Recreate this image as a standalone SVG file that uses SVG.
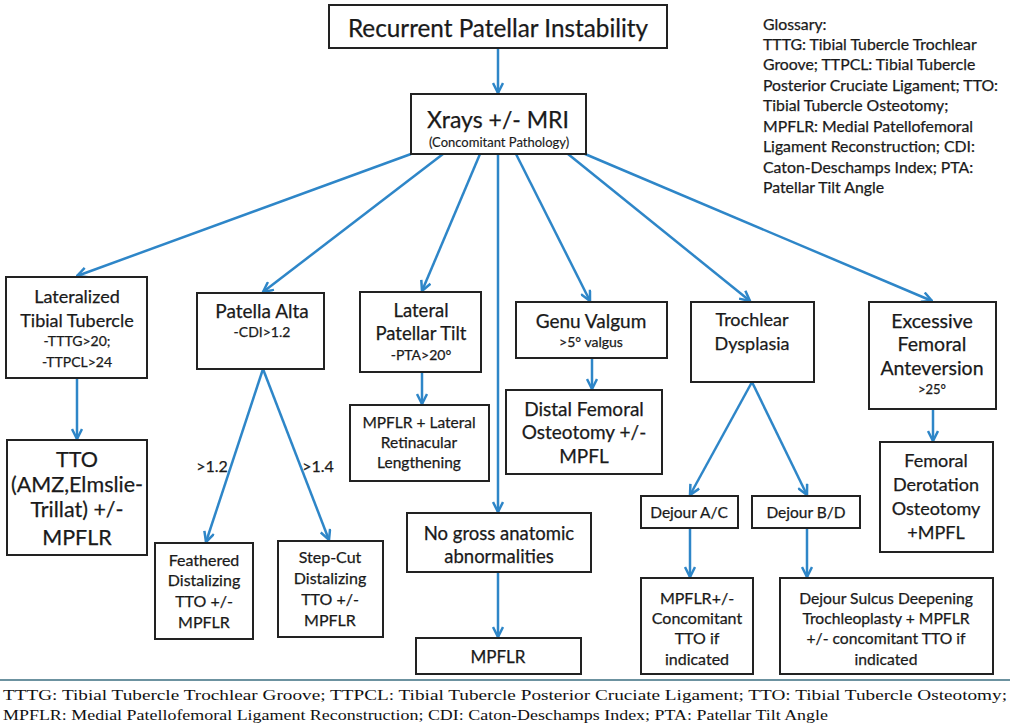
<svg xmlns="http://www.w3.org/2000/svg" width="1010" height="725" viewBox="0 0 1010 725">
<style>
.box{fill:#fff;stroke:#222;stroke-width:2}
.t{font-family:Lato,"Open Sans","Liberation Sans",sans-serif;fill:#1a1a1a;text-anchor:middle;stroke:#1a1a1a;stroke-width:0.25}
.g{font-family:Lato,"Open Sans","Liberation Sans",sans-serif;fill:#1a1a1a;font-size:15.8px;stroke:#1a1a1a;stroke-width:0.25}
.c{fill:none;stroke:#2e86c8;stroke-width:2.5;marker-end:url(#ah)}
.f{font-family:"Liberation Serif","Times New Roman",serif;fill:#111;font-size:15px}
</style>
<defs>
<marker id="ah" viewBox="0 0 12 12" refX="11" refY="6" markerWidth="12" markerHeight="12" markerUnits="userSpaceOnUse" orient="auto">
<path d="M1,1 L11,6 L1,11" fill="none" stroke="#2e86c8" stroke-width="2.5"/>
</marker>
</defs>
<rect width="1010" height="725" fill="#fff"/>

<g id="connectors">
<line class="c" x1="498" y1="48" x2="498" y2="93"/>
<line class="c" x1="411" y1="154" x2="77" y2="276"/>
<line class="c" x1="443" y1="154" x2="263" y2="292"/>
<line class="c" x1="480" y1="154" x2="422" y2="291"/>
<line class="c" x1="498" y1="154" x2="498" y2="512"/>
<line class="c" x1="516" y1="154" x2="590" y2="301"/>
<line class="c" x1="568" y1="154" x2="750" y2="301"/>
<line class="c" x1="585" y1="154" x2="932" y2="301"/>
<line class="c" x1="77" y1="378" x2="77" y2="439"/>
<line class="c" x1="263" y1="369" x2="206" y2="542"/>
<line class="c" x1="263" y1="369" x2="329" y2="540"/>
<line class="c" x1="422" y1="372" x2="422" y2="404"/>
<line class="c" x1="592" y1="358" x2="592" y2="389"/>
<line class="c" x1="752" y1="382" x2="690" y2="495"/>
<line class="c" x1="752" y1="382" x2="807" y2="495"/>
<line class="c" x1="933" y1="409" x2="933" y2="441"/>
<line class="c" x1="498" y1="572" x2="498" y2="637"/>
<line class="c" x1="690" y1="528" x2="690" y2="577"/>
<line class="c" x1="807" y1="528" x2="807" y2="577"/>
</g>

<g id="n-root"><rect class="box" x="329" y="5" width="338" height="43"/>
<text class="t" x="498" y="37" font-size="24.3">Recurrent Patellar Instability</text></g>

<g id="n-xrays"><rect class="box" x="411" y="94" width="175" height="60"/>
<text class="t" x="498" y="128" font-size="23">Xrays +/- MRI</text>
<text class="t" x="499" y="147" font-size="13" style="stroke-width:0.15">(Concomitant Pathology)</text></g>

<g id="n-lat-tib"><rect class="box" x="6" y="277" width="141" height="101"/>
<text class="t" x="77" y="303" font-size="18">Lateralized</text>
<text class="t" x="77" y="327" font-size="18">Tibial Tubercle</text>
<text class="t" x="77" y="346" font-size="14">-TTTG&gt;20;</text>
<text class="t" x="77" y="367" font-size="14">-TTPCL&gt;24</text></g>

<g id="n-tto"><rect class="box" x="7" y="440" width="140" height="115"/>
<text class="t" x="77" y="467" font-size="21.5">TTO</text>
<text class="t" x="77" y="492" font-size="21.5">(AMZ,Elmslie-</text>
<text class="t" x="77" y="517" font-size="21.5">Trillat) +/-</text>
<text class="t" x="77" y="545" font-size="21.5">MPFLR</text></g>

<g id="n-alta"><rect class="box" x="197" y="293" width="127" height="76"/>
<text class="t" x="262" y="318" font-size="19">Patella Alta</text>
<text class="t" x="262" y="337" font-size="14">-CDI&gt;1.2</text></g>

<text class="t" x="212" y="472" font-size="16">&gt;1.2</text>
<text class="t" x="318" y="472" font-size="16">&gt;1.4</text>

<g id="n-feathered"><rect class="box" x="155" y="543" width="98" height="96"/>
<text class="t" x="204" y="566" font-size="16">Feathered</text>
<text class="t" x="204" y="586" font-size="16">Distalizing</text>
<text class="t" x="204" y="607" font-size="16">TTO +/-</text>
<text class="t" x="204" y="628" font-size="16">MPFLR</text></g>

<g id="n-stepcut"><rect class="box" x="278" y="541" width="105" height="96"/>
<text class="t" x="330" y="563" font-size="16">Step-Cut</text>
<text class="t" x="330" y="584" font-size="16">Distalizing</text>
<text class="t" x="330" y="605" font-size="16">TTO +/-</text>
<text class="t" x="330" y="626" font-size="16">MPFLR</text></g>

<g id="n-tilt"><rect class="box" x="360" y="292" width="121" height="80"/>
<text class="t" x="421" y="317" font-size="18.5">Lateral</text>
<text class="t" x="421" y="340" font-size="18.5">Patellar Tilt</text>
<text class="t" x="421" y="360" font-size="14">-PTA&gt;20°</text></g>

<g id="n-mpflr-lat"><rect class="box" x="350" y="405" width="139" height="76"/>
<text class="t" x="419" y="428" font-size="15.5">MPFLR + Lateral</text>
<text class="t" x="419" y="448" font-size="15.5">Retinacular</text>
<text class="t" x="419" y="468" font-size="15.5">Lengthening</text></g>

<g id="n-nogross"><rect class="box" x="407" y="513" width="184" height="59"/>
<text class="t" x="499" y="540" font-size="18.5">No gross anatomic</text>
<text class="t" x="499" y="563" font-size="18.5">abnormalities</text></g>

<g id="n-mpflr"><rect class="box" x="416" y="638" width="165" height="36"/>
<text class="t" x="498" y="663" font-size="17">MPFLR</text></g>

<g id="n-genu"><rect class="box" x="516" y="302" width="151" height="56"/>
<text class="t" x="591" y="328" font-size="19">Genu Valgum</text>
<text class="t" x="591" y="347" font-size="14">&gt;5° valgus</text></g>

<g id="n-distal"><rect class="box" x="506" y="390" width="156" height="84"/>
<text class="t" x="584" y="416" font-size="19">Distal Femoral</text>
<text class="t" x="584" y="439" font-size="19">Osteotomy +/-</text>
<text class="t" x="584" y="463" font-size="19">MPFL</text></g>

<g id="n-trochlear"><rect class="box" x="691" y="302" width="123" height="80"/>
<text class="t" x="752" y="326" font-size="18">Trochlear</text>
<text class="t" x="752" y="350" font-size="18">Dysplasia</text></g>

<g id="n-dejour-ac"><rect class="box" x="641" y="496" width="97" height="32"/>
<text class="t" x="689" y="518" font-size="15.5">Dejour A/C</text></g>

<g id="n-dejour-bd"><rect class="box" x="752" y="496" width="108" height="32"/>
<text class="t" x="806" y="518" font-size="15.5">Dejour B/D</text></g>

<g id="n-mpflr-conc"><rect class="box" x="641" y="578" width="112" height="96"/>
<text class="t" x="697" y="604" font-size="16">MPFLR+/-</text>
<text class="t" x="697" y="624" font-size="16">Concomitant</text>
<text class="t" x="697" y="644" font-size="16">TTO if</text>
<text class="t" x="697" y="665" font-size="16">indicated</text></g>

<g id="n-sulcus"><rect class="box" x="780" y="578" width="213" height="96"/>
<text class="t" x="886" y="604" font-size="15.7">Dejour Sulcus Deepening</text>
<text class="t" x="886" y="624" font-size="15.7">Trochleoplasty + MPFLR</text>
<text class="t" x="886" y="644" font-size="15.7">+/- concomitant TTO if</text>
<text class="t" x="886" y="665" font-size="15.7">indicated</text></g>

<g id="n-anteversion"><rect class="box" x="869" y="302" width="127" height="107"/>
<text class="t" x="932" y="328" font-size="19.5">Excessive</text>
<text class="t" x="932" y="351" font-size="19.5">Femoral</text>
<text class="t" x="932" y="375" font-size="19.5">Anteversion</text>
<text class="t" x="932" y="394" font-size="13">&gt;25°</text></g>

<g id="n-derotation"><rect class="box" x="880" y="442" width="113" height="110"/>
<text class="t" x="936" y="467" font-size="18">Femoral</text>
<text class="t" x="936" y="491" font-size="18">Derotation</text>
<text class="t" x="936" y="515" font-size="18">Osteotomy</text>
<text class="t" x="936" y="539" font-size="18">+MPFL</text></g>

<g id="glossary">
<text class="g" x="763" y="30">Glossary:</text>
<text class="g" x="763" y="50">TTTG: Tibial Tubercle Trochlear</text>
<text class="g" x="763" y="70">Groove; TTPCL: Tibial Tubercle</text>
<text class="g" x="763" y="91">Posterior Cruciate Ligament; TTO:</text>
<text class="g" x="763" y="111">Tibial Tubercle Osteotomy;</text>
<text class="g" x="763" y="132">MPFLR: Medial Patellofemoral</text>
<text class="g" x="763" y="152">Ligament Reconstruction; CDI:</text>
<text class="g" x="763" y="173">Caton-Deschamps Index; PTA:</text>
<text class="g" x="763" y="193">Patellar Tilt Angle</text>
</g>

<g id="footer">
<line x1="0" y1="680" x2="1010" y2="680" stroke="#3b6e80" stroke-width="1.5"/>
<text class="f" x="3" y="700" textLength="1004" lengthAdjust="spacingAndGlyphs">TTTG: Tibial Tubercle Trochlear Groove; TTPCL: Tibial Tubercle Posterior Cruciate Ligament; TTO: Tibial Tubercle Osteotomy;</text>
<text class="f" x="3" y="720" textLength="825" lengthAdjust="spacingAndGlyphs">MPFLR: Medial Patellofemoral Ligament Reconstruction; CDI: Caton-Deschamps Index; PTA: Patellar Tilt Angle</text>
</g>
</svg>
